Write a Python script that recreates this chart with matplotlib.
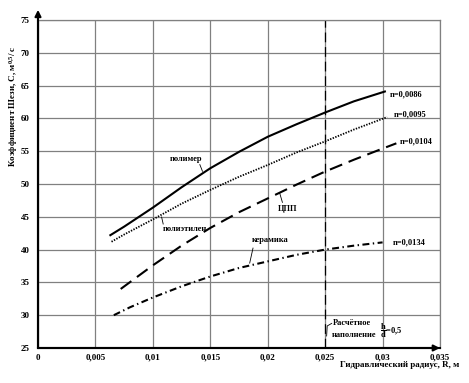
import matplotlib
matplotlib.use("Agg")
import matplotlib.pyplot as plt

plt.rcParams["font.family"] = ["Liberation Serif", "DejaVu Serif"]
plt.rcParams["font.weight"] = "bold"
plt.rcParams["mathtext.fontset"] = "custom"
plt.rcParams["mathtext.rm"] = "Liberation Serif:bold"
plt.rcParams["mathtext.it"] = "Liberation Serif:bold"
plt.rcParams["mathtext.bf"] = "Liberation Serif:bold"
plt.rcParams["lines.scale_dashes"] = False

# данные: R (м) -> C
r_polymer = [0.0063, 0.0075, 0.010, 0.0125, 0.015, 0.0175, 0.020, 0.0225, 0.025, 0.0275, 0.0302]
c_polymer = [42.2, 43.5, 46.4, 49.5, 52.4, 54.9, 57.2, 59.1, 60.9, 62.6, 64.1]

r_pe = [0.0064, 0.0075, 0.010, 0.0125, 0.015, 0.0175, 0.020, 0.0225, 0.025, 0.0275, 0.0304]
c_pe = [41.2, 42.3, 44.6, 47.0, 49.1, 51.1, 52.9, 54.8, 56.5, 58.3, 60.2]

r_cpp = [0.0072, 0.010, 0.0125, 0.015, 0.0175, 0.020, 0.0225, 0.025, 0.0275, 0.030, 0.0312]
c_cpp = [34.0, 37.6, 40.6, 43.3, 45.7, 47.8, 49.9, 51.9, 53.7, 55.4, 56.2]

r_ceram = [0.0066, 0.008, 0.010, 0.0125, 0.015, 0.0175, 0.020, 0.0225, 0.025, 0.0275, 0.030]
c_ceram = [30.0, 31.2, 32.7, 34.4, 35.9, 37.2, 38.2, 39.2, 40.0, 40.6, 41.1]

x_ticks = [0, 0.005, 0.01, 0.015, 0.02, 0.025, 0.03, 0.035]
x_labels = ["0", "0,005", "0,01", "0,015", "0,02", "0,025", "0,03", "0,035"]
y_ticks = [25, 30, 35, 40, 45, 50, 55, 60, 65, 70, 75]
r_design = 0.025

fig = plt.figure(figsize=(4.69, 3.83), dpi=100)
ax = fig.add_axes([38 / 469, 1 - 348 / 383, 402 / 469, 328 / 383])
ax.set_xlim(0, 0.035)
ax.set_ylim(25, 75)
ax.set_xticks(x_ticks)
ax.set_xticklabels(x_labels)
ax.set_yticks(y_ticks)
ax.tick_params(length=0, labelsize=6.5)
ax.tick_params(axis="y", pad=6)
ax.tick_params(axis="x", pad=4)
for lab in ax.get_xticklabels() + ax.get_yticklabels():
    lab.set_fontweight("bold")
ax.grid(True, color="#808080", lw=0.9)
ax.set_axisbelow(True)
for s in ("top", "right"):
    ax.spines[s].set_color("#808080")
    ax.spines[s].set_linewidth(0.9)
for s in ("left", "bottom"):
    ax.spines[s].set_linewidth(1.5)

# стрелки осей
ax.annotate("", xy=(0, 1.031), xytext=(0, 0), xycoords="axes fraction",
            arrowprops=dict(arrowstyle="-|>", lw=1.5, color="k",
                            mutation_scale=9, shrinkA=0, shrinkB=0))
ax.annotate("", xy=(1.0, 0), xytext=(0, 0), xycoords="axes fraction",
            arrowprops=dict(arrowstyle="-|>", lw=1.5, color="k",
                            mutation_scale=9, shrinkA=0, shrinkB=0))

ax.plot(r_polymer, c_polymer, color="k", lw=1.5)
ax.plot(r_pe, c_pe, color="k", lw=1.3, linestyle=(0, (1, 1)))
ax.plot(r_cpp, c_cpp, color="k", lw=1.5, linestyle=(0, (9.5, 5)))
ax.plot(r_ceram, c_ceram, color="k", lw=1.5, linestyle=(0, (5, 2.5, 1, 2.5)))
ax.axvline(r_design, color="k", lw=0.9, linestyle=(0, (7, 3.5)))

fs = 6
ax.text(0.01293, 53.8, "полимер", fontsize=fs, ha="center", va="center")
ax.plot([0.01409, 0.01432], [52.96, 51.94], color="k", lw=0.6)
ax.text(0.01278, 43.1, "полиэтилен", fontsize=fs, ha="center", va="center")
ax.plot([0.01076, 0.0109], [44.97, 43.9], color="k", lw=0.6)
ax.text(0.02177, 46.2, "ЦПП", fontsize=fs, ha="center", va="center")
ax.plot([0.02104, 0.02128], [48.63, 47.2], color="k", lw=0.6)
ax.text(0.02017, 41.5, "керамика", fontsize=fs, ha="center", va="center")
ax.plot([0.01872, 0.01843], [40.23, 37.94], color="k", lw=0.6)

ax.text(0.03061, 63.65, "n=0,0086", fontsize=fs, ha="left", va="center")
ax.text(0.03096, 60.6, "n=0,0095", fontsize=fs, ha="left", va="center")
ax.text(0.03148, 56.5, "n=0,0104", fontsize=fs, ha="left", va="center")
ax.text(0.0309, 41.15, "n=0,0134", fontsize=fs, ha="left", va="center")

ax.text(0.02568, 28.85, "Расчётное", fontsize=fs, ha="left", va="center")
ax.text(0.02559, 27.05, "наполнение", fontsize=fs, ha="left", va="center")
ax.text(0.02975, 27.6, r"$\dfrac{\mathrm{h}}{\mathrm{d}}$=0,5",
        fontsize=fs, ha="left", va="center")
ax.plot([0.02557, 0.02518, 0.02513], [28.75, 28.36, 26.83], color="k", lw=0.6)

fig.text(13 / 469, 1 - 106 / 383, r"Коэффициент Шези, C, м$^{0{,}5}$/ с",
         rotation=90, ha="center", va="center", fontsize=6.5)
fig.text(400 / 469, 1 - 365 / 383, "Гидравлический радиус, R, м",
         ha="center", va="center", fontsize=6.5)

fig.savefig("out.png", dpi=100)
